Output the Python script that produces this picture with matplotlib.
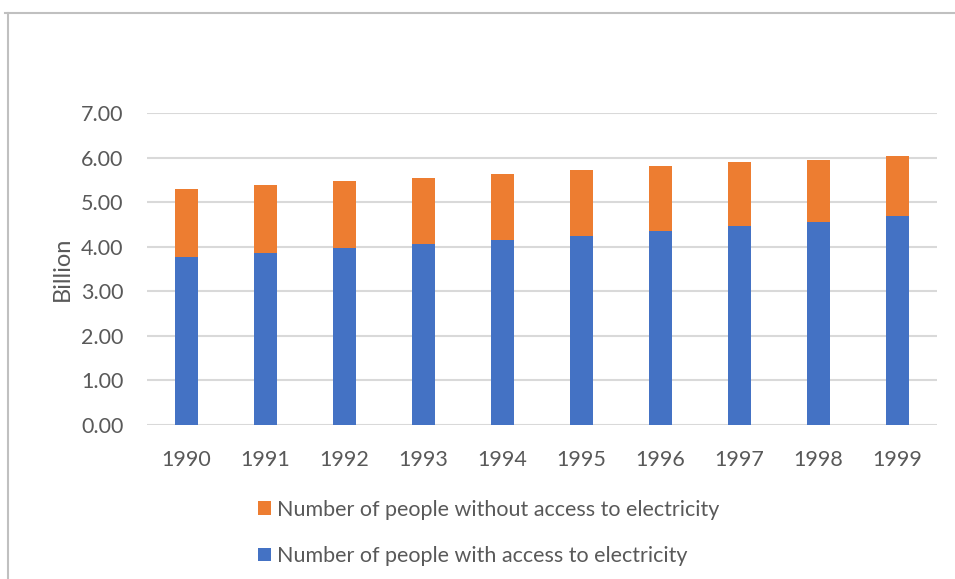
import matplotlib
matplotlib.use("Agg")
import matplotlib.pyplot as plt
from matplotlib.lines import Line2D
from matplotlib.patches import Patch

years = ["1990", "1991", "1992", "1993", "1994", "1995", "1996", "1997", "1998", "1999"]
with_access = [3.78, 3.86, 3.98, 4.06, 4.15, 4.23, 4.35, 4.46, 4.55, 4.69]
total = [5.29, 5.38, 5.47, 5.55, 5.64, 5.72, 5.81, 5.89, 5.95, 6.04]
without_access = [round(t - w, 2) for t, w in zip(total, with_access)]
yticks = [0, 1, 2, 3, 4, 5, 6, 7]

blue = "#4472C4"
orange = "#ED7D31"
text_col = "#595959"
grid_col = "#d9d9d9"

plt.rcParams['font.family'] = ['Lato', 'DejaVu Sans']

fig = plt.figure(figsize=(9.55, 5.79), dpi=100)
ax = fig.add_axes([147/955, 1 - 425/579, (937 - 147)/955, (425 - 113)/579])

x = list(range(len(years)))
ax.bar(x, with_access, width=0.30, color=blue, zorder=3)
ax.bar(x, without_access, width=0.30, bottom=with_access, color=orange, zorder=3)

ax.set_xlim(-0.5, 9.5)
ax.set_ylim(0, 7)
ax.set_yticks(yticks)
ax.set_yticklabels([f"{v:.2f}" for v in yticks])
ax.set_xticks(x)
ax.set_xticklabels(years)
ax.tick_params(axis='both', length=0, colors=text_col, labelsize=15.5)
ax.tick_params(axis='x', pad=18)
ax.tick_params(axis='y', pad=17)
for s in ax.spines.values():
    s.set_visible(False)
ax.grid(axis='y', color=grid_col, linewidth=1.5, zorder=0)
ax.set_axisbelow(True)
ax.set_ylabel("Billion", color=text_col, fontsize=17, labelpad=6)

handles = [Patch(facecolor=orange), Patch(facecolor=blue)]
labels = ["Number of people without access to electricity",
          "Number of people with access to electricity"]
leg = fig.legend(handles, labels, loc='center left', bbox_to_anchor=(247/955, 1 - 533/579),
                 ncol=1, frameon=False, fontsize=15.5, handlelength=0.6, handleheight=0.6,
                 handletextpad=0.3, labelspacing=1.22, borderpad=0)
for t in leg.get_texts():
    t.set_color(text_col)

# outer frame lines
fig.add_artist(Line2D([5/955, 1], [1 - 13/579, 1 - 13/579], transform=fig.transFigure,
                      color="#c0c0c0", linewidth=1.5))
fig.add_artist(Line2D([8/955, 8/955], [0, 1 - 13/579], transform=fig.transFigure,
                      color="#c0c0c0", linewidth=1.5))

fig.savefig("out.png", dpi=100)
